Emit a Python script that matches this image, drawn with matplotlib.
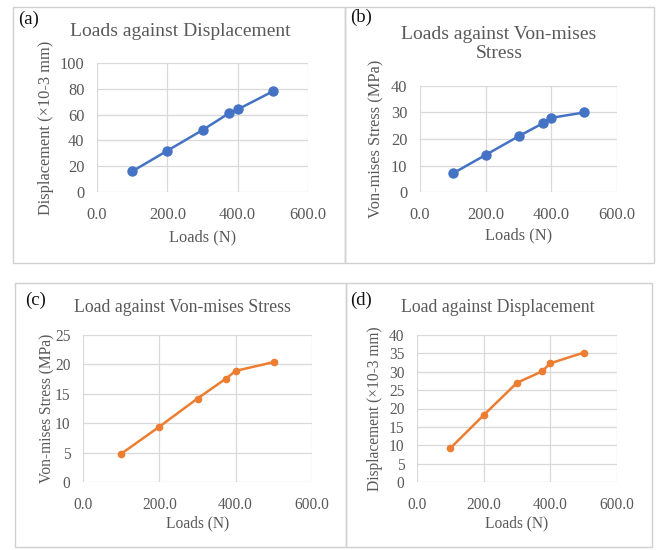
import matplotlib.pyplot as plt
from matplotlib.patches import Rectangle
from matplotlib.ticker import FormatStrFormatter

plt.rcParams['font.family'] = ['Liberation Serif', 'DejaVu Serif']

# data
loads = [100, 200, 300, 375, 400, 500]
disp_a = [16, 32, 48, 61, 64, 78]
stress_b = [7, 14, 21, 26, 28, 30]
stress_c = [4.8, 9.4, 14.2, 17.6, 18.9, 20.4]
disp_d = [9.2, 18.2, 27, 30.1, 32.3, 35.2]

W, H = 656, 550
BLUE = '#4472C4'
ORANGE = '#ED7D31'
GREY = '#595959'
GRID = '#d9d9d9'

fig = plt.figure(figsize=(W / 100, H / 100), dpi=100)


def box(x0, y0, x1, y1):
    # pixel box (top-left origin) -> figure fraction rect
    return [x0 / W, 1 - y1 / H, (x1 - x0) / W, (y1 - y0) / H]


def frame(x0, y0, x1, y1):
    fig.patches.append(Rectangle((x0 / W, 1 - y1 / H), (x1 - x0) / W, (y1 - y0) / H,
                                 transform=fig.transFigure, fill=False,
                                 edgecolor='#d0d0d0', lw=1.0))


def text(x, y, s, **kw):
    fig.text(x / W, 1 - y / H, s, **kw)


def panel(rect, y, ymax, ystep, color, ms, ylabel, fs, ylab_x, xlab_y):
    ax = fig.add_axes(box(*rect))
    ax.plot(loads, y, color=color, lw=1.8, marker='o', ms=ms, zorder=3)
    ax.set_xlim(0, 600)
    ax.set_ylim(0, ymax)
    ax.set_xticks(range(0, 601, 200))
    ax.set_yticks(range(0, ymax + 1, ystep))
    ax.xaxis.set_major_formatter(FormatStrFormatter('%.1f'))
    ax.grid(True, color=GRID, lw=0.9)
    ax.set_axisbelow(True)
    for s in ax.spines.values():
        s.set_visible(False)
    ax.tick_params(length=0, labelsize=fs, colors=GREY)
    ax.tick_params(axis='x', pad=10.5)
    ax.tick_params(axis='y', pad=9)
    ax.set_xlabel('Loads (N)', fontsize=fs, color=GREY)
    ax.set_ylabel(ylabel, fontsize=fs, color=GREY)
    ax.yaxis.set_label_coords(ylab_x, 0.5)
    ax.xaxis.set_label_coords(0.5, xlab_y)
    return ax


# outer panel frames
frame(13, 7, 345, 263)
frame(345, 7, 654, 263)
frame(15, 283, 346, 547)
frame(346, 283, 652, 547)

panel((97, 63, 308, 192), disp_a, 100, 20, BLUE, 6.5,
      'Displacement (×10-3 mm)', 11.8, -0.204, -0.287)
panel((420, 86, 617, 192), stress_b, 40, 10, BLUE, 6.5,
      'Von-mises Stress (MPa)', 11.8, -0.183, -0.33)
panel((83, 335, 312, 482), stress_c, 25, 5, ORANGE, 4.5,
      'Von-mises Stress (MPa)', 11.2, -0.122, -0.224)
panel((417, 335, 617, 482), disp_d, 40, 5, ORANGE, 4.5,
      'Displacement (×10-3 mm)', 11.2, -0.17, -0.224)

text(180, 32, 'Loads against Displacement', fontsize=14, color=GREY,
     ha='center', va='center')
text(499, 44, 'Loads against Von-mises\nStress', fontsize=14, color=GREY,
     ha='center', va='center', linespacing=1.15)
text(182, 307, 'Load against Von-mises Stress', fontsize=12.8, color=GREY,
     ha='center', va='center')
text(498, 307, 'Load against Displacement', fontsize=12.8, color=GREY,
     ha='center', va='center')

text(18, 19, '(a)', fontsize=13.5, color='#111111', ha='left', va='center')
text(350, 17, '(b)', fontsize=13.5, color='#111111', ha='left', va='center')
text(25, 300, '(c)', fontsize=13.5, color='#111111', ha='left', va='center')
text(350, 300, '(d)', fontsize=13.5, color='#111111', ha='left', va='center')

fig.savefig('out.png', dpi=100)
